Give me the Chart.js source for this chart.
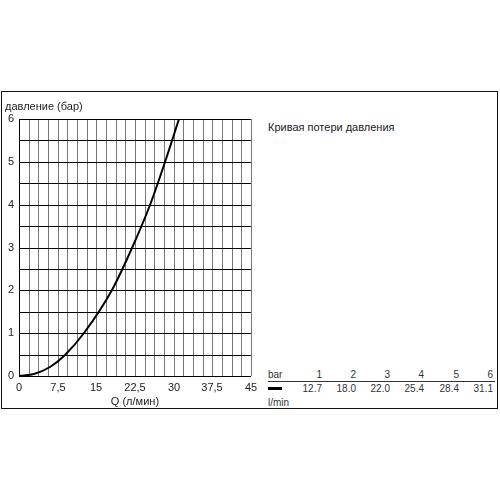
<!DOCTYPE html>
<html>
<head>
<meta charset="utf-8">
<script src="https://cdn.jsdelivr.net/npm/chart.js@4/dist/chart.umd.min.js"></script>
<style>
  body { margin: 0; background: #fff; font-family: "Liberation Sans", Arial, sans-serif; }
  #wrap { position: relative; width: 500px; height: 500px; }
  #frame { position: absolute; left: 1px; top: 91px; width: 495px; height: 316px; border: 1px solid #111; }
  #cv { position: absolute; left: 0; top: 91px; }
  .t { position: absolute; white-space: nowrap; color: #222; }
  #ylab { left: 5px; top: 100px; font-size: 11px; }
  #side { left: 268px; top: 121px; font-size: 11px; }
  #tab { position: absolute; left: 268px; top: 369px; width: 226px; font-size: 10px; color: #333; }
  #tab .row { position: relative; height: 13px; }
  #tab span { position: absolute; }
  #rule { position: absolute; left: 268px; top: 381px; width: 227px; height: 1px; background: #333; }
  #mark { position: absolute; left: 268px; top: 387px; width: 14px; height: 3px; background: #000; }
</style>
</head>
<body>
<div id="wrap">
  <div id="frame"></div>
  <canvas id="cv" width="262" height="318"></canvas>
  <div class="t" id="ylab">давление (бар)</div>
  <div class="t" id="side">Кривая потери давления</div>
  <div id="rule"></div>
  <div id="mark"></div>
  <div id="tab"></div>
</div>
<script>
// curve: flow (l/min) vs pressure (bar)
var flowQ = [0, 3, 6, 9, 12.7, 18.0, 22.0, 25.4, 28.4, 31.1];
var pressureBar = [0, 0.05, 0.22, 0.5, 1, 2, 3, 4, 5, 6];

// small table on the right
var tableBar = [1, 2, 3, 4, 5, 6];
var tableFlow = ['12.7', '18.0', '22.0', '25.4', '28.4', '31.1'];
var colRight = [322, 356, 390, 424, 459, 493];

function buildTable() {
    var tab = document.getElementById('tab');
    var r1 = '<div class="row"><span style="left:0">bar</span>';
    var r2 = '<div class="row" style="margin-top:1px">';
    tableBar.forEach(function (b, i) {
        var right = 268 + 226 - colRight[i];
        r1 += '<span style="right:' + right + 'px">' + b + '</span>';
        r2 += '<span style="right:' + right + 'px">' + tableFlow[i] + '</span>';
    });
    r1 += '</div>';
    r2 += '</div>';
    var r3 = '<div class="row" style="margin-top:1px"><span style="left:0">l/min</span></div>';
    tab.innerHTML = r1 + r2 + r3;
}
buildTable();

function isStep(v, s) {
    var k = v / s;
    return Math.abs(k - Math.round(k)) < 1e-6;
}

var points = flowQ.map(function (q, i) { return { x: q, y: pressureBar[i] }; });

new Chart(document.getElementById('cv'), {
    type: 'line',
    data: {
        datasets: [{
            data: points,
            borderColor: '#000',
            borderWidth: 2,
            pointRadius: 0,
            fill: false,
            cubicInterpolationMode: 'monotone'
        }]
    },
    options: {
        responsive: false,
        animation: false,
        layout: { padding: { top: 28, right: 7, left: 0, bottom: 0 } },
        plugins: { legend: { display: false }, tooltip: { enabled: false } },
        scales: {
            x: {
                type: 'linear',
                min: 0,
                max: 45,
                alignToPixels: true,
                afterFit: function (s) { s.height = 33; },
                grid: { color: '#777', drawTicks: false, lineWidth: 1 },
                border: { color: '#000' },
                title: {
                    display: true,
                    text: 'Q (л/мин)',
                    color: '#222',
                    font: { family: 'Liberation Sans', size: 11 },
                    padding: { top: 0, bottom: 0 }
                },
                ticks: {
                    stepSize: 1.875,
                    autoSkip: false,
                    maxRotation: 0,
                    padding: 5,
                    color: '#222',
                    font: { family: 'Liberation Sans', size: 11 },
                    callback: function (v) {
                        return isStep(v, 7.5) ? String(v).replace('.', ',') : '';
                    }
                }
            },
            y: {
                min: 0,
                max: 6,
                alignToPixels: true,
                afterFit: function (s) { s.width = 19; },
                grid: { color: '#000', drawTicks: false, lineWidth: 1 },
                border: { color: '#000' },
                ticks: {
                    stepSize: 0.5,
                    autoSkip: false,
                    padding: 5,
                    color: '#222',
                    font: { family: 'Liberation Sans', size: 11 },
                    callback: function (v) {
                        return isStep(v, 1) ? String(v) : '';
                    }
                }
            }
        }
    }
});
</script>
</body>
</html>
